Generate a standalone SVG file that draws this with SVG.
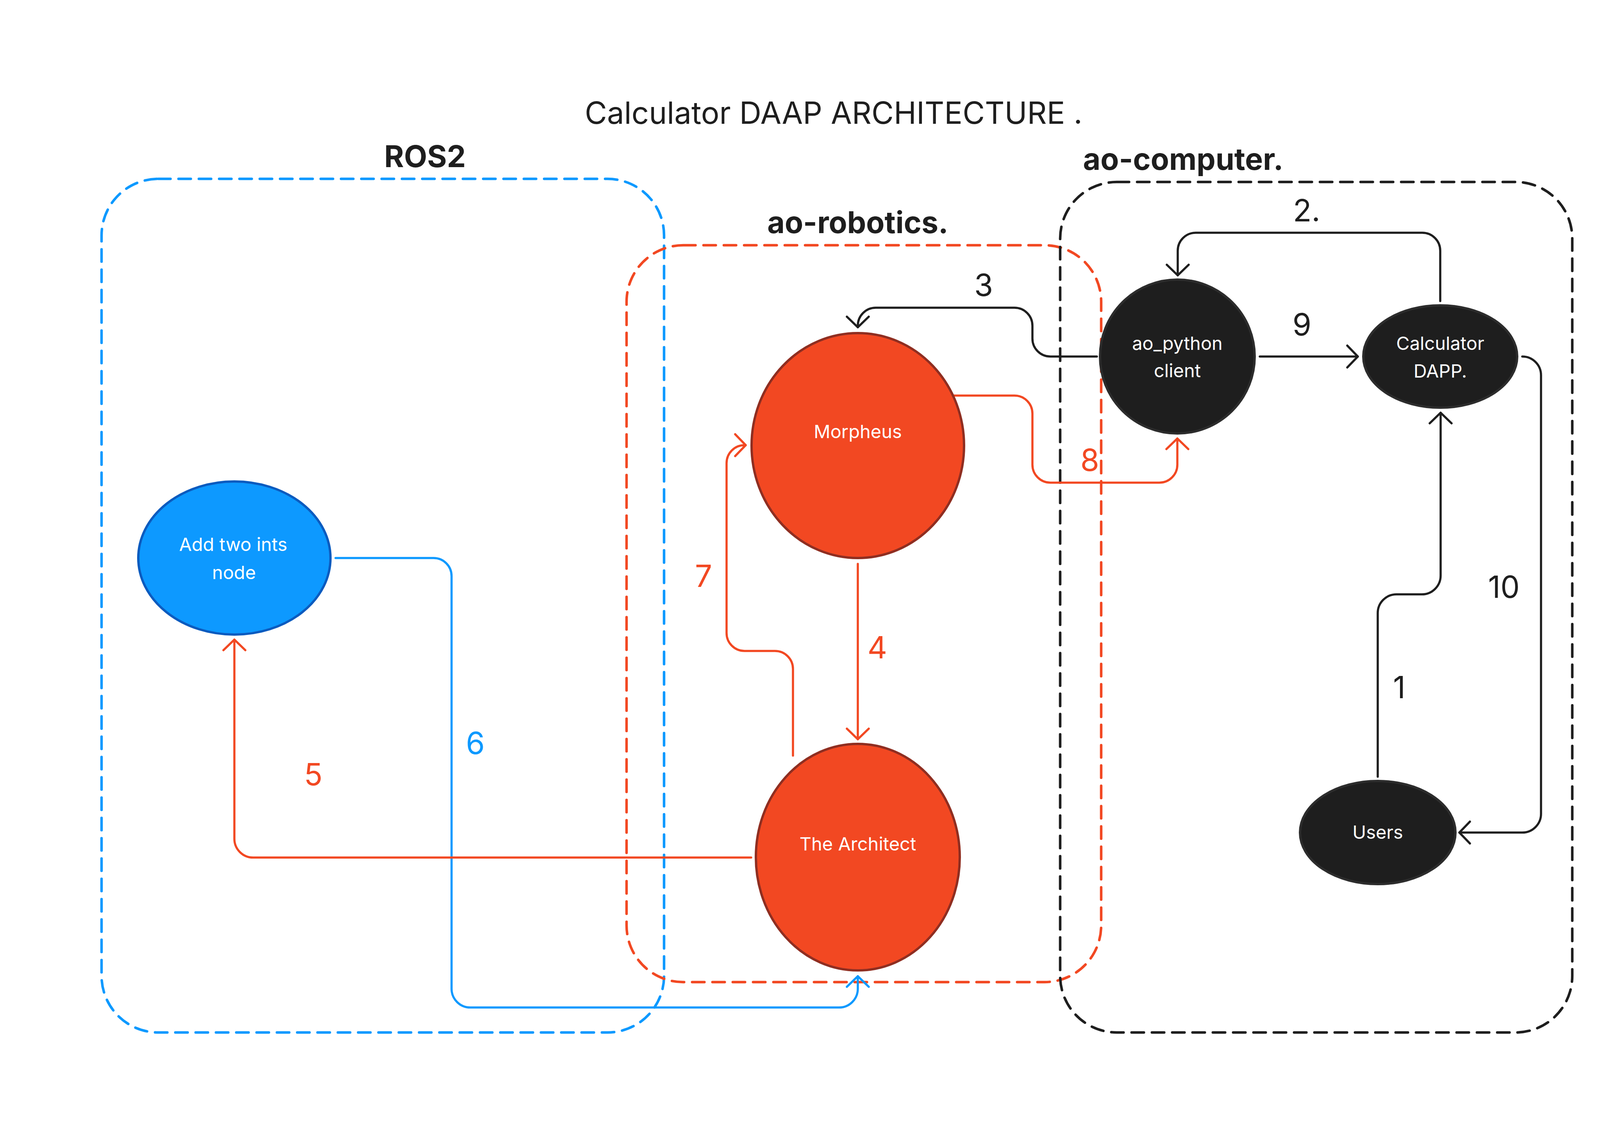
<svg xmlns="http://www.w3.org/2000/svg" width="4286" height="2904" viewBox="0 0 4286 2904">
<style>
.bg{fill:#ffffff}
.box{fill:none;stroke-width:6.5;stroke-dasharray:31.5 20.5;stroke-linecap:round}
.conn{fill:none;stroke-width:5.5;stroke-linecap:round;stroke-linejoin:round}
.blue{stroke:#0d99ff}
.red{stroke:#f24822}
.black{stroke:#1e1e1e}
.t{font-family:Inter,"Noto Sans","Liberation Sans",sans-serif}
.title{font-size:78px;fill:#1e1e1e}
.grp{font-size:77px;font-weight:700;fill:#1e1e1e}
.num{font-size:78px;text-anchor:middle}
.nl{font-size:47px;fill:#ffffff;text-anchor:middle}
.nred{fill:#f24822;stroke:#8f2e21;stroke-width:6}
.nblue{fill:#0d99ff;stroke:#0b5bbf;stroke-width:6}
.ndark{fill:#1e1e1e;stroke:#2c2c2c;stroke-width:6}
</style>
<defs>
<marker id="ah-red" markerUnits="userSpaceOnUse" orient="auto" refX="0" refY="0" markerWidth="60" markerHeight="80" viewBox="-40 -40 60 80" overflow="visible"><path d="M-27,-28 L0,0 L-27,28" fill="none" stroke="#f24822" stroke-width="5.5" stroke-linecap="round" stroke-linejoin="round"/></marker>
<marker id="ah-blue" markerUnits="userSpaceOnUse" orient="auto" refX="0" refY="0" markerWidth="60" markerHeight="80" viewBox="-40 -40 60 80" overflow="visible"><path d="M-27,-28 L0,0 L-27,28" fill="none" stroke="#0d99ff" stroke-width="5.5" stroke-linecap="round" stroke-linejoin="round"/></marker>
<marker id="ah-black" markerUnits="userSpaceOnUse" orient="auto" refX="0" refY="0" markerWidth="60" markerHeight="80" viewBox="-40 -40 60 80" overflow="visible"><path d="M-27,-28 L0,0 L-27,28" fill="none" stroke="#1e1e1e" stroke-width="5.5" stroke-linecap="round" stroke-linejoin="round"/></marker>
</defs>
<rect class="bg" x="0" y="0" width="4286" height="2904"/>
<text class="t title" x="1497" y="317">Calculator DAAP ARCHITECTURE .</text>
<g id="group-ros2">
<rect class="box blue" x="260" y="458" width="1440" height="2186" rx="145" ry="145"/>
<text class="t grp" x="1088" y="428" text-anchor="middle">ROS2</text>
</g>
<g id="group-ao-robotics">
<rect class="box red" x="1604" y="628" width="1215" height="1887" rx="145" ry="145"/>
<text class="t grp" x="2196" y="597" text-anchor="middle">ao-robotics.</text>
</g>
<g id="group-ao-computer">
<rect class="box black" x="2714" y="466" width="1311" height="2178" rx="145" ry="145"/>
<text class="t grp" x="3029" y="435" text-anchor="middle">ao-computer.</text>
</g>
<g id="connectors">
<path id="c6" class="conn blue" d="M859 1429 H1110 A46 46 0 0 1 1156 1475 V2532 A48 48 0 0 0 1204 2580 H2148 A48 48 0 0 0 2196 2532 V2500" marker-end="url(#ah-blue)"/>
<path id="c5" class="conn red" d="M1923 2196 H648 A48 48 0 0 1 600 2148 V1638" marker-end="url(#ah-red)"/>
<path id="c4" class="conn red" d="M2196 1444 V1893" marker-end="url(#ah-red)"/>
<path id="c7" class="conn red" d="M2030 1935 V1713 A46 46 0 0 0 1984 1667 H1906 A46 46 0 0 1 1860 1621 V1186 A46 46 0 0 1 1906 1140 H1909" marker-end="url(#ah-red)"/>
<path id="c8" class="conn red" d="M2438 1013 H2597 A46 46 0 0 1 2643 1059 V1190 A46 46 0 0 0 2689 1236 H2968 A46 46 0 0 0 3014 1190 V1123" marker-end="url(#ah-red)"/>
<path id="c3" class="conn black" d="M2808 913 H2689 A46 46 0 0 1 2643 867 V834 A46 46 0 0 0 2597 788 H2242 A46 46 0 0 0 2196 834 V838" marker-end="url(#ah-black)"/>
<path id="c2" class="conn black" d="M3687 771 V642 A46 46 0 0 0 3641 596 H3061 A46 46 0 0 0 3015 642 V705" marker-end="url(#ah-black)"/>
<path id="c9" class="conn black" d="M3225 913 H3476" marker-end="url(#ah-black)"/>
<path id="c10" class="conn black" d="M3897 913 A48 48 0 0 1 3945 961 V2084 A48 48 0 0 1 3897 2132 H3736" marker-end="url(#ah-black)"/>
<path id="c1" class="conn black" d="M3527 1989 V1570 A48 48 0 0 1 3575 1522 H3640 A48 48 0 0 0 3688 1474 V1057" marker-end="url(#ah-black)"/>
<g class="t num">
<text x="802" y="2011" fill="#f24822">5</text>
<text x="1217" y="1931" fill="#0d99ff">6</text>
<text x="1801" y="1503" fill="#f24822">7</text>
<text x="2246" y="1686" fill="#f24822">4</text>
<text x="2790" y="1206" fill="#f24822">8</text>
<text x="2518" y="758" fill="#1e1e1e">3</text>
<text x="3345" y="567" fill="#1e1e1e">2.</text>
<text x="3333" y="859" fill="#1e1e1e">9</text>
<text x="3850" y="1531" fill="#1e1e1e">10</text>
<text x="3582" y="1788" fill="#1e1e1e">1</text>
</g>
</g>
<g id="node-add-two-ints">
<ellipse class="nblue" cx="600" cy="1429" rx="246" ry="196"/>
<text class="t nl" x="597" y="1411">Add two ints</text>
<text class="t nl" x="599" y="1483">node</text>
</g>
<g id="node-morpheus">
<ellipse class="nred" cx="2196" cy="1141" rx="272" ry="288"/>
<text class="t nl" x="2196" y="1122">Morpheus</text>
</g>
<g id="node-architect">
<ellipse class="nred" cx="2196" cy="2195" rx="261" ry="290"/>
<text class="t nl" x="2196" y="2178">The Architect</text>
</g>
<g id="node-ao-python">
<ellipse class="ndark" cx="3014" cy="913" rx="198" ry="197"/>
<text class="t nl" x="3014" y="896">ao_python</text>
<text class="t nl" x="3014" y="966">client</text>
</g>
<g id="node-calculator">
<ellipse class="ndark" cx="3687" cy="913" rx="197" ry="131"/>
<text class="t nl" x="3687" y="896">Calculator</text>
<text class="t nl" x="3687" y="967">DAPP.</text>
</g>
<g id="node-users">
<ellipse class="ndark" cx="3527" cy="2132" rx="199" ry="132"/>
<text class="t nl" x="3527" y="2148">Users</text>
</g>
</svg>
